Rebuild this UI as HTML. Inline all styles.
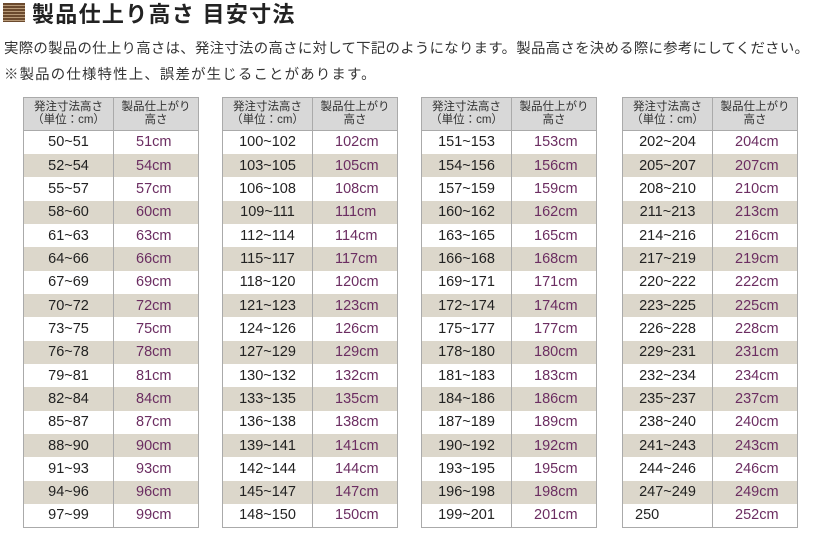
<!DOCTYPE html><html><head><meta charset="utf-8"><style>
body{margin:0;width:815px;height:541px;background:#fff;font-family:"Liberation Sans","Noto Sans CJK JP",sans-serif;color:#222;position:relative;overflow:hidden}
.icon{position:absolute;left:3px;top:3px;width:22px;height:19px;background:repeating-linear-gradient(180deg,#6b4a2e 0 2px,#b89a78 2px 3px)}
h1{position:absolute;left:32px;top:-3px;margin:0;font-size:22px;font-weight:bold;color:#222;letter-spacing:1.3px}
.p{position:absolute;left:4px;font-size:14.4px;color:#333;letter-spacing:0.3px;white-space:nowrap}
table{position:absolute;top:97px;width:175px;border-collapse:collapse;border:1px solid #aaa;table-layout:fixed}
th{background:#d8d8d8;font-weight:normal;font-size:11.5px;line-height:13px;height:32px;padding:0;border:1px solid #aaa;color:#333}
td{height:23.35px;padding:0;font-size:14.5px;border-left:1px solid #aaa;border-right:1px solid #aaa;box-sizing:border-box}
td:first-child{text-align:center}
td:last-child{color:#6b2d61;padding-left:22px}
tr:nth-child(odd) td{background:#dcd7cb}
</style></head><body>
<div class="icon"></div><h1>製品仕上り高さ 目安寸法</h1>
<div class="p" style="top:37px">実際の製品の仕上り高さは、発注寸法の高さに対して下記のようになります。製品高さを決める際に参考にしてください。</div>
<div class="p" style="top:63px;letter-spacing:1.2px">※製品の仕様特性上、誤差が生じることがあります。</div>
<div id="t"></div>
<script>
var starts=[50,100,151,202],lefts=[23,222,421,622],h='';
for(var k=0;k<4;k++){var s='<table style="left:'+lefts[k]+'px"><colgroup><col style="width:90px"><col style="width:85px"></colgroup><tr><th>発注寸法高さ<br>（単位：cm）</th><th>製品仕上がり<br>高さ</th></tr>';
var a=starts[k];
for(var i=0;i<17;i++){var lab,res;
if(k==0&&i==0){lab='50~51';res=51;a=52;}
else if(k==3&&i==16){lab='250';res=252;}
else{lab=a+'~'+(a+2);res=a+2;a+=3;}
s+='<tr><td'+(k==3&&i==16?' style="text-align:left;padding-left:12px"':'')+'>'+lab+'</td><td>'+res+'cm</td></tr>';}
h+=s+'</table>';}
document.getElementById('t').innerHTML=h;
</script></body></html>
